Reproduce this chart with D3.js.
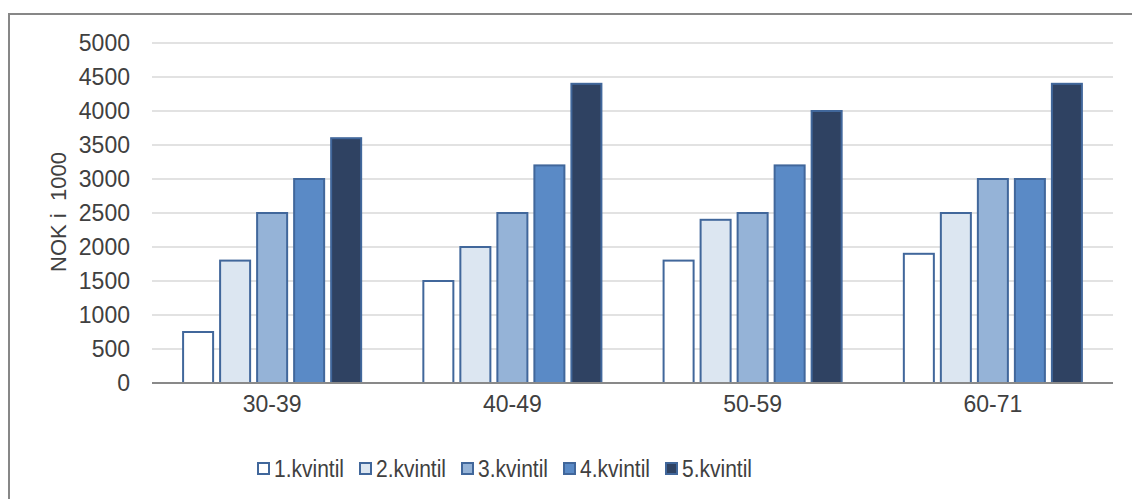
<!DOCTYPE html>
<html>
<head>
<meta charset="utf-8">
<script src="https://cdn.jsdelivr.net/npm/d3@7"></script>
<style>
  html, body { margin: 0; padding: 0; background: #fff; }
  svg { display: block; font-family: "Liberation Sans", Arial, sans-serif; }
  .tick text { fill: #404040; font-size: 23px; }
</style>
</head>
<body>
<svg id="chart" width="1132" height="499"></svg>
<script>
const ageGroups = ['30-39', '40-49', '50-59', '60-71'];
const quintiles = ['1.kvintil', '2.kvintil', '3.kvintil', '4.kvintil', '5.kvintil'];
// values per age group, one per quintile (NOK i 1000)
const q1 = [750, 1500, 1800, 1900];
const q2 = [1800, 2000, 2400, 2500];
const q3 = [2500, 2500, 2500, 3000];
const q4 = [3000, 3200, 3200, 3000];
const q5 = [3600, 4400, 4000, 4400];
const yTicks = [0, 500, 1000, 1500, 2000, 2500, 3000, 3500, 4000, 4500, 5000];

const series = [q1, q2, q3, q4, q5];
const fills = ['#ffffff', '#dce6f1', '#95b3d7', '#5a8ac6', '#2f4262'];
const outline = '#41679b';

const chart = d3.select('#chart');
const width = +chart.attr('width');
const height = +chart.attr('height');
const plot = { left: 152, right: 1113, top: 43, bottom: 383 };

// outer frame, runs past the right and bottom edges
chart.append('rect')
  .attr('x', 9).attr('y', 14)
  .attr('width', width + 10).attr('height', height + 10)
  .attr('fill', 'none').attr('stroke', '#878787').attr('stroke-width', 2);

const x0 = d3.scaleBand().domain(ageGroups).range([plot.left, plot.right]);
const x1 = d3.scaleBand().domain(d3.range(quintiles.length))
  .range([0, x0.bandwidth()]).paddingInner(0.189).paddingOuter(0.84);
const y = d3.scaleLinear().domain([0, 5000]).range([plot.bottom, plot.top]);

// grid lines
chart.append('g')
  .selectAll('line')
  .data(yTicks.slice(1))
  .join('line')
  .attr('x1', plot.left).attr('x2', plot.right)
  .attr('y1', d => y(d)).attr('y2', d => y(d))
  .attr('stroke', '#d9d9d9').attr('stroke-width', 1.5);

const yAxis = d3.axisLeft(y).tickValues(yTicks).tickFormat(d3.format('d'))
  .tickSize(0).tickPadding(22);
chart.append('g')
  .attr('transform', `translate(${plot.left},0)`)
  .call(yAxis)
  .call(g => g.select('.domain').remove());

// bars
const groups = chart.append('g')
  .selectAll('g')
  .data(ageGroups)
  .join('g')
  .attr('transform', d => `translate(${x0(d)},0)`);

groups.selectAll('rect')
  .data((d, gi) => series.map((s, si) => ({ si, v: s[gi] })))
  .join('rect')
  .attr('x', d => x1(d.si))
  .attr('width', x1.bandwidth())
  .attr('y', d => y(d.v))
  .attr('height', d => y(0) - y(d.v))
  .attr('fill', d => fills[d.si])
  .attr('stroke', outline).attr('stroke-width', 2);

// x axis
const xAxis = d3.axisBottom(x0).tickSize(0).tickPadding(13);
chart.append('g')
  .attr('transform', `translate(0,${plot.bottom})`)
  .call(xAxis)
  .call(g => g.select('.domain').remove());

chart.append('line')
  .attr('x1', plot.left).attr('x2', plot.right)
  .attr('y1', plot.bottom).attr('y2', plot.bottom)
  .attr('stroke', '#898989').attr('stroke-width', 2);

// y axis title
chart.append('text')
  .attr('transform', 'translate(66,212) rotate(-90)')
  .attr('text-anchor', 'middle')
  .attr('fill', '#404040')
  .attr('font-size', 22)
  .attr('xml:space', 'preserve')
  .text('NOK i  1000');

// legend
const legend = chart.append('g')
  .selectAll('g')
  .data(quintiles)
  .join('g')
  .attr('transform', (d, i) => `translate(${258 + i * 102},463)`);

legend.append('rect')
  .attr('width', 11).attr('height', 11)
  .attr('fill', (d, i) => fills[i])
  .attr('stroke', outline).attr('stroke-width', 2);

legend.append('text')
  .attr('x', 16).attr('y', 14)
  .attr('fill', '#404040')
  .attr('font-size', 23)
  .attr('textLength', 70)
  .attr('lengthAdjust', 'spacingAndGlyphs')
  .text(d => d);
</script>
</body>
</html>
